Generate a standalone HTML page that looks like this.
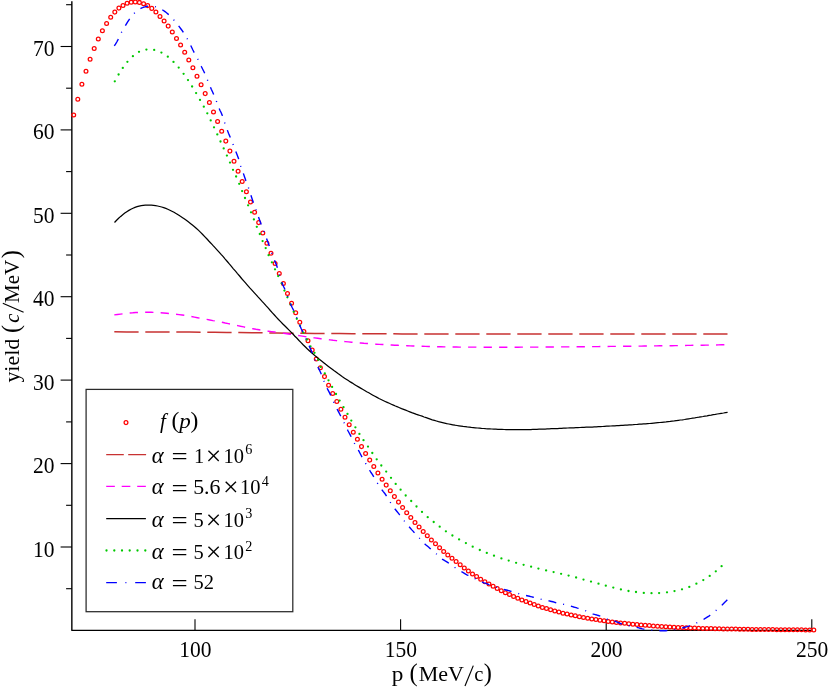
<!DOCTYPE html>
<html><head><meta charset="utf-8"><title>chart</title>
<style>
html,body{margin:0;padding:0;background:#fff;}
body{width:830px;height:689px;position:relative;overflow:hidden;font-family:"Liberation Serif",serif;}
svg text{white-space:pre;}
</style></head><body>
<svg width="830" height="689" viewBox="0 0 830 689" style="position:absolute;left:0;top:0;will-change:transform">
<g stroke="#000" stroke-width="1.4" fill="none">
<path d="M71.85,1.3 V630.4" stroke-width="1.4"/><path d="M71.4,630.4 H812.2"/>
</g>
<g stroke="#000" stroke-width="1.1" fill="none">
<path d="M66.1,588.7 H71.89999999999999"/>
<path d="M60.6,547.0 H71.89999999999999"/>
<path d="M66.1,505.3 H71.89999999999999"/>
<path d="M60.6,463.6 H71.89999999999999"/>
<path d="M66.1,421.9 H71.89999999999999"/>
<path d="M60.6,380.1 H71.89999999999999"/>
<path d="M66.1,338.4 H71.89999999999999"/>
<path d="M60.6,296.7 H71.89999999999999"/>
<path d="M66.1,255.0 H71.89999999999999"/>
<path d="M60.6,213.3 H71.89999999999999"/>
<path d="M66.1,171.6 H71.89999999999999"/>
<path d="M60.6,129.9 H71.89999999999999"/>
<path d="M66.1,88.2 H71.89999999999999"/>
<path d="M60.6,46.5 H71.89999999999999"/>
<path d="M66.1,4.7 H71.89999999999999"/>
<path d="M195.0,619.2 V630.4"/>
<path d="M400.6,619.2 V630.4"/>
<path d="M606.2,619.2 V630.4"/>
<path d="M811.8,619.2 V630.4"/>
</g>
<g fill="none" stroke="#ff0000" stroke-width="1.25"><circle cx="73.7" cy="115.0" r="1.9"/><circle cx="77.8" cy="99.2" r="1.9"/><circle cx="81.9" cy="84.3" r="1.9"/><circle cx="86.0" cy="71.2" r="1.9"/><circle cx="90.1" cy="59.2" r="1.9"/><circle cx="94.2" cy="48.6" r="1.9"/><circle cx="98.3" cy="39.1" r="1.9"/><circle cx="102.4" cy="30.7" r="1.9"/><circle cx="106.6" cy="23.4" r="1.9"/><circle cx="110.7" cy="17.2" r="1.9"/><circle cx="114.8" cy="12.1" r="1.9"/><circle cx="118.9" cy="8.1" r="1.9"/><circle cx="123.0" cy="5.4" r="1.9"/><circle cx="127.1" cy="3.2" r="1.9"/><circle cx="131.2" cy="2.2" r="1.9"/><circle cx="135.3" cy="2.0" r="1.9"/><circle cx="139.4" cy="2.4" r="1.9"/><circle cx="143.6" cy="3.7" r="1.9"/><circle cx="147.7" cy="5.6" r="1.9"/><circle cx="151.8" cy="8.4" r="1.9"/><circle cx="155.9" cy="12.0" r="1.9"/><circle cx="160.0" cy="16.4" r="1.9"/><circle cx="164.1" cy="20.9" r="1.9"/><circle cx="168.2" cy="26.1" r="1.9"/><circle cx="172.3" cy="32.0" r="1.9"/><circle cx="176.5" cy="38.4" r="1.9"/><circle cx="180.6" cy="45.0" r="1.9"/><circle cx="184.7" cy="52.3" r="1.9"/><circle cx="188.8" cy="60.0" r="1.9"/><circle cx="192.9" cy="67.8" r="1.9"/><circle cx="197.0" cy="76.2" r="1.9"/><circle cx="201.1" cy="84.8" r="1.9"/><circle cx="205.2" cy="93.6" r="1.9"/><circle cx="209.4" cy="102.5" r="1.9"/><circle cx="213.5" cy="111.9" r="1.9"/><circle cx="217.6" cy="121.4" r="1.9"/><circle cx="221.7" cy="131.3" r="1.9"/><circle cx="225.8" cy="141.1" r="1.9"/><circle cx="229.9" cy="151.1" r="1.9"/><circle cx="234.0" cy="161.2" r="1.9"/><circle cx="238.1" cy="171.3" r="1.9"/><circle cx="242.2" cy="181.4" r="1.9"/><circle cx="246.4" cy="191.7" r="1.9"/><circle cx="250.5" cy="202.0" r="1.9"/><circle cx="254.6" cy="212.3" r="1.9"/><circle cx="258.7" cy="222.6" r="1.9"/><circle cx="262.8" cy="232.9" r="1.9"/><circle cx="266.9" cy="243.2" r="1.9"/><circle cx="271.0" cy="253.3" r="1.9"/><circle cx="275.1" cy="263.4" r="1.9"/><circle cx="279.3" cy="273.4" r="1.9"/><circle cx="283.4" cy="283.4" r="1.9"/><circle cx="287.5" cy="293.4" r="1.9"/><circle cx="291.6" cy="303.2" r="1.9"/><circle cx="295.7" cy="312.8" r="1.9"/><circle cx="299.8" cy="322.2" r="1.9"/><circle cx="303.9" cy="331.5" r="1.9"/><circle cx="308.0" cy="340.8" r="1.9"/><circle cx="312.2" cy="350.1" r="1.9"/><circle cx="316.3" cy="359.0" r="1.9"/><circle cx="320.4" cy="367.8" r="1.9"/><circle cx="324.5" cy="376.6" r="1.9"/><circle cx="328.6" cy="385.2" r="1.9"/><circle cx="332.7" cy="393.5" r="1.9"/><circle cx="336.8" cy="401.4" r="1.9"/><circle cx="340.9" cy="409.3" r="1.9"/><circle cx="345.0" cy="417.2" r="1.9"/><circle cx="349.2" cy="424.7" r="1.9"/><circle cx="353.3" cy="432.2" r="1.9"/><circle cx="357.4" cy="439.3" r="1.9"/><circle cx="361.5" cy="446.6" r="1.9"/><circle cx="365.6" cy="453.4" r="1.9"/><circle cx="369.7" cy="460.1" r="1.9"/><circle cx="373.8" cy="466.5" r="1.9"/><circle cx="377.9" cy="472.9" r="1.9"/><circle cx="382.1" cy="479.2" r="1.9"/><circle cx="386.2" cy="485.1" r="1.9"/><circle cx="390.3" cy="490.8" r="1.9"/><circle cx="394.4" cy="496.6" r="1.9"/><circle cx="398.5" cy="502.1" r="1.9"/><circle cx="402.6" cy="507.5" r="1.9"/><circle cx="406.7" cy="512.7" r="1.9"/><circle cx="410.8" cy="517.6" r="1.9"/><circle cx="415.0" cy="522.5" r="1.9"/><circle cx="419.1" cy="527.1" r="1.9"/><circle cx="423.2" cy="531.5" r="1.9"/><circle cx="427.3" cy="535.8" r="1.9"/><circle cx="431.4" cy="539.9" r="1.9"/><circle cx="435.5" cy="543.8" r="1.9"/><circle cx="439.6" cy="547.7" r="1.9"/><circle cx="443.7" cy="551.5" r="1.9"/><circle cx="447.8" cy="554.9" r="1.9"/><circle cx="452.0" cy="558.3" r="1.9"/><circle cx="456.1" cy="561.6" r="1.9"/><circle cx="460.2" cy="564.7" r="1.9"/><circle cx="464.3" cy="568.1" r="1.9"/><circle cx="468.4" cy="571.0" r="1.9"/><circle cx="472.5" cy="573.9" r="1.9"/><circle cx="476.6" cy="576.6" r="1.9"/><circle cx="480.7" cy="579.2" r="1.9"/><circle cx="484.9" cy="581.8" r="1.9"/><circle cx="489.0" cy="584.1" r="1.9"/><circle cx="493.1" cy="586.3" r="1.9"/><circle cx="497.2" cy="588.5" r="1.9"/><circle cx="501.3" cy="590.7" r="1.9"/><circle cx="505.4" cy="592.7" r="1.9"/><circle cx="509.5" cy="594.6" r="1.9"/><circle cx="513.6" cy="596.5" r="1.9"/><circle cx="517.8" cy="598.3" r="1.9"/><circle cx="521.9" cy="600.0" r="1.9"/><circle cx="526.0" cy="601.5" r="1.9"/><circle cx="530.1" cy="603.0" r="1.9"/><circle cx="534.2" cy="604.5" r="1.9"/><circle cx="538.3" cy="606.1" r="1.9"/><circle cx="542.4" cy="607.4" r="1.9"/><circle cx="546.5" cy="608.6" r="1.9"/><circle cx="550.6" cy="609.8" r="1.9"/><circle cx="554.8" cy="611.0" r="1.9"/><circle cx="558.9" cy="612.1" r="1.9"/><circle cx="563.0" cy="613.2" r="1.9"/><circle cx="567.1" cy="614.0" r="1.9"/><circle cx="571.2" cy="615.0" r="1.9"/><circle cx="575.3" cy="615.8" r="1.9"/><circle cx="579.4" cy="616.7" r="1.9"/><circle cx="583.5" cy="617.5" r="1.9"/><circle cx="587.7" cy="618.2" r="1.9"/><circle cx="591.8" cy="618.9" r="1.9"/><circle cx="595.9" cy="619.5" r="1.9"/><circle cx="600.0" cy="620.2" r="1.9"/><circle cx="604.1" cy="620.8" r="1.9"/><circle cx="608.2" cy="621.4" r="1.9"/><circle cx="612.3" cy="621.9" r="1.9"/><circle cx="616.4" cy="622.4" r="1.9"/><circle cx="620.6" cy="622.9" r="1.9"/><circle cx="624.7" cy="623.3" r="1.9"/><circle cx="628.8" cy="623.8" r="1.9"/><circle cx="632.9" cy="624.2" r="1.9"/><circle cx="637.0" cy="624.6" r="1.9"/><circle cx="641.1" cy="624.9" r="1.9"/><circle cx="645.2" cy="625.3" r="1.9"/><circle cx="649.3" cy="625.6" r="1.9"/><circle cx="653.4" cy="625.9" r="1.9"/><circle cx="657.6" cy="626.2" r="1.9"/><circle cx="661.7" cy="626.5" r="1.9"/><circle cx="665.8" cy="626.7" r="1.9"/><circle cx="669.9" cy="626.9" r="1.9"/><circle cx="674.0" cy="627.2" r="1.9"/><circle cx="678.1" cy="627.4" r="1.9"/><circle cx="682.2" cy="627.6" r="1.9"/><circle cx="686.3" cy="627.8" r="1.9"/><circle cx="690.5" cy="627.9" r="1.9"/><circle cx="694.6" cy="628.1" r="1.9"/><circle cx="698.7" cy="628.2" r="1.9"/><circle cx="702.8" cy="628.4" r="1.9"/><circle cx="706.9" cy="628.5" r="1.9"/><circle cx="711.0" cy="628.6" r="1.9"/><circle cx="715.1" cy="628.7" r="1.9"/><circle cx="719.2" cy="628.8" r="1.9"/><circle cx="723.4" cy="628.9" r="1.9"/><circle cx="727.5" cy="629.0" r="1.9"/><circle cx="731.6" cy="629.1" r="1.9"/><circle cx="735.7" cy="629.1" r="1.9"/><circle cx="739.8" cy="629.2" r="1.9"/><circle cx="743.9" cy="629.3" r="1.9"/><circle cx="748.0" cy="629.3" r="1.9"/><circle cx="752.1" cy="629.4" r="1.9"/><circle cx="756.2" cy="629.4" r="1.9"/><circle cx="760.4" cy="629.5" r="1.9"/><circle cx="764.5" cy="629.5" r="1.9"/><circle cx="768.6" cy="629.6" r="1.9"/><circle cx="772.7" cy="629.6" r="1.9"/><circle cx="776.8" cy="629.7" r="1.9"/><circle cx="780.9" cy="629.7" r="1.9"/><circle cx="785.0" cy="629.7" r="1.9"/><circle cx="789.1" cy="629.8" r="1.9"/><circle cx="793.3" cy="629.8" r="1.9"/><circle cx="797.4" cy="629.8" r="1.9"/><circle cx="801.5" cy="629.8" r="1.9"/><circle cx="805.6" cy="629.9" r="1.9"/><circle cx="809.7" cy="629.9" r="1.9"/><circle cx="813.8" cy="629.9" r="1.9"/></g>
<path d="M114.3,331.8 L126.8,331.9 L139.3,331.9 L151.8,332.0 L164.4,332.0 L176.9,332.1 L189.4,332.1 L201.9,332.2 L214.4,332.3 L226.9,332.4 L239.4,332.6 L252.0,332.7 L264.5,332.9 L277.0,333.0 L289.5,333.2 L302.0,333.3 L314.5,333.4 L327.0,333.5 L339.6,333.6 L352.1,333.7 L364.6,333.7 L377.1,333.8 L389.6,333.8 L402.1,333.9 L414.6,333.9 L427.2,333.9 L439.7,334.0 L452.2,334.0 L464.7,334.0 L477.2,334.0 L489.7,334.0 L502.2,334.0 L514.8,334.0 L527.3,334.0 L539.8,334.0 L552.3,334.0 L564.8,334.0 L577.3,334.0 L589.8,334.0 L602.4,334.0 L614.9,334.0 L627.4,334.0 L639.9,333.9 L652.4,333.9 L664.9,333.9 L677.4,333.9 L690.0,333.9 L702.5,333.9 L715.0,333.9 L727.5,333.9" fill="none" stroke="#c83232" stroke-width="1.5" stroke-dasharray="24.3 6.7"/>
<path d="M114.3,314.9 L117.4,314.5 L120.5,314.1 L123.5,313.7 L126.6,313.4 L129.7,313.0 L132.8,312.8 L135.9,312.5 L139.0,312.4 L142.0,312.2 L145.1,312.2 L148.2,312.2 L151.3,312.2 L154.4,312.4 L157.4,312.6 L160.5,312.8 L163.6,313.0 L166.7,313.3 L169.8,313.6 L172.8,313.9 L175.9,314.2 L179.0,314.6 L182.1,315.0 L185.2,315.4 L188.3,315.9 L191.3,316.5 L194.4,317.1 L197.5,317.7 L200.6,318.3 L203.7,318.9 L206.7,319.4 L209.8,320.0 L212.9,320.6 L216.0,321.1 L219.1,321.7 L222.1,322.3 L225.2,323.0 L228.3,323.6 L231.4,324.3 L234.5,325.0 L237.6,325.6 L240.6,326.3 L243.7,326.9 L246.8,327.6 L249.9,328.2 L253.0,328.7 L256.0,329.3 L259.1,329.8 L262.2,330.3 L265.3,330.8 L268.4,331.2 L271.5,331.6 L274.5,332.0 L277.6,332.4 L280.7,332.8 L283.8,333.3 L286.9,333.7 L289.9,334.2 L293.0,334.6 L296.1,335.1 L299.2,335.6 L302.3,336.1 L305.3,336.6 L308.4,337.0 L311.5,337.5 L314.6,337.9 L317.7,338.3 L320.8,338.7 L323.8,339.1 L326.9,339.5 L330.0,339.9 L333.1,340.3 L336.2,340.6 L339.2,341.0 L342.3,341.3 L345.4,341.6 L348.5,341.9 L351.6,342.2 L354.6,342.5 L357.7,342.8 L360.8,343.0 L363.9,343.3 L367.0,343.5 L370.1,343.7 L373.1,344.0 L376.2,344.2 L379.3,344.4 L382.4,344.5 L385.5,344.7 L388.5,344.9 L391.6,345.0 L394.7,345.2 L397.8,345.3 L400.9,345.5 L404.0,345.6 L407.0,345.7 L410.1,345.9 L413.2,346.0 L416.3,346.1 L419.4,346.2 L422.4,346.3 L425.5,346.4 L428.6,346.5 L431.7,346.6 L434.8,346.7 L437.8,346.8 L440.9,346.8 L444.0,346.9 L447.1,346.9 L450.2,347.0 L453.3,347.0 L456.3,347.0 L459.4,347.1 L462.5,347.1 L465.6,347.1 L468.7,347.1 L471.7,347.1 L474.8,347.1 L477.9,347.2 L481.0,347.2 L484.1,347.2 L487.2,347.2 L490.2,347.2 L493.3,347.2 L496.4,347.2 L499.5,347.2 L502.6,347.2 L505.6,347.2 L508.7,347.2 L511.8,347.2 L514.9,347.2 L518.0,347.2 L521.0,347.1 L524.1,347.1 L527.2,347.1 L530.3,347.1 L533.4,347.1 L536.5,347.1 L539.5,347.1 L542.6,347.0 L545.7,347.0 L548.8,347.0 L551.9,347.0 L554.9,347.0 L558.0,347.0 L561.1,346.9 L564.2,346.9 L567.3,346.9 L570.3,346.9 L573.4,346.8 L576.5,346.8 L579.6,346.8 L582.7,346.7 L585.8,346.7 L588.8,346.7 L591.9,346.6 L595.0,346.6 L598.1,346.6 L601.2,346.5 L604.2,346.5 L607.3,346.5 L610.4,346.4 L613.5,346.4 L616.6,346.4 L619.7,346.3 L622.7,346.3 L625.8,346.2 L628.9,346.2 L632.0,346.2 L635.1,346.1 L638.1,346.1 L641.2,346.1 L644.3,346.0 L647.4,346.0 L650.5,345.9 L653.5,345.9 L656.6,345.9 L659.7,345.8 L662.8,345.8 L665.9,345.7 L669.0,345.7 L672.0,345.7 L675.1,345.6 L678.2,345.6 L681.3,345.5 L684.4,345.5 L687.4,345.4 L690.5,345.4 L693.6,345.3 L696.7,345.3 L699.8,345.2 L702.8,345.2 L705.9,345.1 L709.0,345.1 L712.1,345.0 L715.2,345.0 L718.3,344.9 L721.3,344.8 L724.4,344.8 L727.5,344.7" fill="none" stroke="#ff00ff" stroke-width="1.4" stroke-dasharray="8.3 7.2"/>
<path d="M114.5,222.5 L116.6,220.3 L118.6,218.3 L120.7,216.4 L122.7,214.7 L124.8,213.1 L126.8,211.7 L128.9,210.4 L130.9,209.2 L133.0,208.2 L135.0,207.4 L137.1,206.7 L139.1,206.1 L141.2,205.7 L143.2,205.4 L145.3,205.2 L147.3,205.1 L149.4,205.1 L151.4,205.2 L153.5,205.4 L155.5,205.6 L157.6,206.0 L159.6,206.5 L161.7,207.0 L163.7,207.7 L165.8,208.4 L167.8,209.2 L169.9,210.2 L171.9,211.2 L174.0,212.3 L176.0,213.5 L178.1,214.7 L180.1,216.1 L182.2,217.4 L184.2,218.8 L186.3,220.3 L188.3,221.8 L190.4,223.4 L192.4,225.0 L194.5,226.7 L196.5,228.5 L198.6,230.4 L200.6,232.4 L202.7,234.5 L204.7,236.6 L206.8,238.8 L208.8,241.0 L210.9,243.2 L212.9,245.4 L215.0,247.6 L217.0,249.8 L219.1,252.1 L221.1,254.4 L223.2,256.7 L225.2,259.1 L227.3,261.5 L229.3,263.9 L231.4,266.3 L233.4,268.8 L235.5,271.2 L237.5,273.6 L239.6,276.0 L241.6,278.5 L243.7,280.9 L245.7,283.2 L247.8,285.6 L249.8,287.9 L251.9,290.2 L253.9,292.4 L256.0,294.7 L258.0,296.9 L260.1,299.1 L262.1,301.4 L264.2,303.6 L266.2,305.9 L268.3,308.2 L270.3,310.5 L272.4,312.8 L274.4,315.0 L276.5,317.3 L278.5,319.5 L280.6,321.6 L282.6,323.7 L284.7,325.8 L286.7,327.8 L288.8,329.9 L290.8,331.9 L292.9,334.0 L294.9,336.2 L297.0,338.3 L299.0,340.5 L301.1,342.6 L303.1,344.7 L305.2,346.8 L307.2,348.8 L309.3,350.7 L311.3,352.5 L313.4,354.3 L315.4,356.1 L317.5,357.8 L319.6,359.4 L321.6,361.1 L323.7,362.7 L325.7,364.3 L327.8,365.9 L329.8,367.4 L331.9,369.0 L333.9,370.6 L336.0,372.1 L338.0,373.6 L340.1,375.1 L342.1,376.5 L344.2,377.9 L346.2,379.2 L348.3,380.6 L350.3,381.9 L352.4,383.1 L354.4,384.4 L356.5,385.7 L358.5,386.9 L360.6,388.1 L362.6,389.3 L364.7,390.5 L366.7,391.7 L368.8,392.8 L370.8,394.0 L372.9,395.2 L374.9,396.3 L377.0,397.4 L379.0,398.5 L381.1,399.5 L383.1,400.5 L385.2,401.5 L387.2,402.4 L389.3,403.3 L391.3,404.2 L393.4,405.1 L395.4,406.0 L397.5,406.8 L399.5,407.7 L401.6,408.6 L403.6,409.4 L405.7,410.2 L407.7,411.0 L409.8,411.8 L411.8,412.6 L413.9,413.3 L415.9,414.1 L418.0,414.8 L420.0,415.5 L422.1,416.2 L424.1,417.0 L426.2,417.7 L428.2,418.4 L430.3,419.1 L432.3,419.8 L434.4,420.4 L436.4,421.0 L438.5,421.6 L440.5,422.1 L442.6,422.6 L444.6,423.1 L446.7,423.6 L448.7,424.0 L450.8,424.4 L452.8,424.8 L454.9,425.2 L456.9,425.5 L459.0,425.8 L461.0,426.1 L463.1,426.4 L465.1,426.6 L467.2,426.9 L469.2,427.1 L471.3,427.4 L473.3,427.6 L475.4,427.8 L477.4,428.0 L479.5,428.2 L481.5,428.4 L483.6,428.5 L485.6,428.7 L487.7,428.8 L489.7,428.9 L491.8,429.0 L493.8,429.1 L495.9,429.2 L497.9,429.3 L500.0,429.3 L502.0,429.4 L504.1,429.5 L506.1,429.6 L508.2,429.6 L510.2,429.6 L512.3,429.7 L514.3,429.7 L516.4,429.7 L518.4,429.7 L520.5,429.7 L522.5,429.7 L524.6,429.6 L526.7,429.6 L528.7,429.5 L530.8,429.5 L532.8,429.4 L534.9,429.4 L536.9,429.3 L539.0,429.2 L541.0,429.1 L543.1,429.0 L545.1,429.0 L547.2,428.9 L549.2,428.8 L551.3,428.7 L553.3,428.6 L555.4,428.5 L557.4,428.5 L559.5,428.4 L561.5,428.3 L563.6,428.2 L565.6,428.1 L567.7,428.0 L569.7,427.9 L571.8,427.9 L573.8,427.8 L575.9,427.7 L577.9,427.6 L580.0,427.5 L582.0,427.4 L584.1,427.3 L586.1,427.2 L588.2,427.1 L590.2,427.0 L592.3,427.0 L594.3,426.9 L596.4,426.8 L598.4,426.7 L600.5,426.6 L602.5,426.5 L604.6,426.3 L606.6,426.2 L608.7,426.1 L610.7,426.0 L612.8,425.9 L614.8,425.8 L616.9,425.7 L618.9,425.6 L621.0,425.4 L623.0,425.3 L625.1,425.2 L627.1,425.1 L629.2,424.9 L631.2,424.8 L633.3,424.7 L635.3,424.5 L637.4,424.4 L639.4,424.2 L641.5,424.1 L643.5,423.9 L645.6,423.8 L647.6,423.6 L649.7,423.5 L651.7,423.3 L653.8,423.1 L655.8,422.9 L657.9,422.7 L659.9,422.5 L662.0,422.3 L664.0,422.1 L666.1,421.9 L668.1,421.6 L670.2,421.4 L672.2,421.1 L674.3,420.9 L676.3,420.6 L678.4,420.3 L680.4,420.0 L682.5,419.8 L684.5,419.5 L686.6,419.1 L688.6,418.8 L690.7,418.5 L692.7,418.2 L694.8,417.9 L696.8,417.5 L698.9,417.2 L700.9,416.8 L703.0,416.5 L705.0,416.1 L707.1,415.8 L709.1,415.4 L711.2,415.1 L713.2,414.7 L715.3,414.4 L717.3,414.0 L719.4,413.7 L721.4,413.3 L723.5,413.0 L725.5,412.6 L727.6,412.3" fill="none" stroke="#000" stroke-width="1.25"/>
<g fill="#00c800"><circle cx="114.8" cy="81.3" r="1.15"/><circle cx="118.6" cy="74.5" r="1.15"/><circle cx="122.8" cy="67.9" r="1.15"/><circle cx="127.4" cy="61.8" r="1.15"/><circle cx="132.9" cy="56.2" r="1.15"/><circle cx="139.0" cy="51.8" r="1.15"/><circle cx="146.4" cy="49.6" r="1.15"/><circle cx="154.2" cy="49.9" r="1.15"/><circle cx="161.4" cy="52.6" r="1.15"/><circle cx="167.8" cy="56.7" r="1.15"/><circle cx="173.5" cy="61.9" r="1.15"/><circle cx="178.7" cy="67.6" r="1.15"/><circle cx="183.6" cy="73.8" r="1.15"/><circle cx="188.0" cy="80.1" r="1.15"/><circle cx="192.1" cy="86.5" r="1.15"/><circle cx="196.1" cy="93.1" r="1.15"/><circle cx="200.0" cy="99.9" r="1.15"/><circle cx="203.8" cy="106.7" r="1.15"/><circle cx="207.3" cy="113.3" r="1.15"/><circle cx="210.7" cy="120.4" r="1.15"/><circle cx="214.0" cy="127.3" r="1.15"/><circle cx="217.3" cy="134.4" r="1.15"/><circle cx="220.5" cy="141.5" r="1.15"/><circle cx="223.7" cy="148.4" r="1.15"/><circle cx="226.9" cy="155.6" r="1.15"/><circle cx="230.0" cy="162.6" r="1.15"/><circle cx="233.0" cy="169.8" r="1.15"/><circle cx="236.1" cy="176.5" r="1.15"/><circle cx="239.2" cy="183.8" r="1.15"/><circle cx="242.1" cy="191.1" r="1.15"/><circle cx="245.0" cy="198.0" r="1.15"/><circle cx="248.1" cy="205.3" r="1.15"/><circle cx="251.0" cy="212.3" r="1.15"/><circle cx="253.9" cy="219.4" r="1.15"/><circle cx="256.8" cy="226.8" r="1.15"/><circle cx="259.8" cy="234.0" r="1.15"/><circle cx="262.6" cy="241.1" r="1.15"/><circle cx="265.7" cy="248.1" r="1.15"/><circle cx="268.6" cy="255.2" r="1.15"/><circle cx="271.9" cy="262.3" r="1.15"/><circle cx="275.0" cy="269.3" r="1.15"/><circle cx="278.2" cy="276.1" r="1.15"/><circle cx="281.6" cy="283.3" r="1.15"/><circle cx="284.4" cy="290.6" r="1.15"/><circle cx="287.4" cy="297.3" r="1.15"/><circle cx="290.6" cy="304.5" r="1.15"/><circle cx="293.7" cy="311.7" r="1.15"/><circle cx="296.8" cy="318.8" r="1.15"/><circle cx="300.0" cy="325.7" r="1.15"/><circle cx="303.3" cy="332.6" r="1.15"/><circle cx="306.9" cy="339.5" r="1.15"/><circle cx="310.5" cy="346.4" r="1.15"/><circle cx="314.5" cy="352.8" r="1.15"/><circle cx="318.2" cy="359.8" r="1.15"/><circle cx="320.7" cy="366.9" r="1.15"/><circle cx="324.8" cy="373.4" r="1.15"/><circle cx="328.5" cy="380.3" r="1.15"/><circle cx="332.1" cy="386.9" r="1.15"/><circle cx="336.0" cy="394.0" r="1.15"/><circle cx="339.6" cy="400.6" r="1.15"/><circle cx="343.5" cy="407.2" r="1.15"/><circle cx="347.5" cy="413.9" r="1.15"/><circle cx="351.3" cy="420.6" r="1.15"/><circle cx="355.4" cy="427.3" r="1.15"/><circle cx="359.4" cy="433.9" r="1.15"/><circle cx="363.5" cy="440.2" r="1.15"/><circle cx="368.0" cy="446.6" r="1.15"/><circle cx="372.3" cy="453.0" r="1.15"/><circle cx="376.7" cy="459.3" r="1.15"/><circle cx="381.3" cy="465.5" r="1.15"/><circle cx="386.2" cy="471.6" r="1.15"/><circle cx="391.0" cy="477.8" r="1.15"/><circle cx="395.7" cy="483.9" r="1.15"/><circle cx="400.6" cy="489.7" r="1.15"/><circle cx="405.7" cy="495.5" r="1.15"/><circle cx="411.2" cy="501.0" r="1.15"/><circle cx="416.5" cy="506.5" r="1.15"/><circle cx="422.0" cy="511.9" r="1.15"/><circle cx="427.7" cy="517.2" r="1.15"/><circle cx="433.7" cy="522.0" r="1.15"/><circle cx="439.7" cy="526.7" r="1.15"/><circle cx="445.9" cy="531.3" r="1.15"/><circle cx="452.4" cy="535.5" r="1.15"/><circle cx="459.1" cy="539.4" r="1.15"/><circle cx="465.9" cy="543.1" r="1.15"/><circle cx="472.7" cy="546.7" r="1.15"/><circle cx="479.8" cy="550.0" r="1.15"/><circle cx="486.8" cy="552.9" r="1.15"/><circle cx="494.0" cy="555.7" r="1.15"/><circle cx="501.4" cy="558.4" r="1.15"/><circle cx="508.7" cy="560.6" r="1.15"/><circle cx="516.1" cy="562.8" r="1.15"/><circle cx="523.6" cy="564.8" r="1.15"/><circle cx="531.1" cy="566.7" r="1.15"/><circle cx="538.4" cy="568.6" r="1.15"/><circle cx="546.1" cy="570.4" r="1.15"/><circle cx="553.6" cy="572.1" r="1.15"/><circle cx="561.1" cy="573.8" r="1.15"/><circle cx="568.6" cy="575.6" r="1.15"/><circle cx="576.1" cy="577.5" r="1.15"/><circle cx="583.5" cy="579.6" r="1.15"/><circle cx="591.0" cy="581.6" r="1.15"/><circle cx="598.5" cy="583.7" r="1.15"/><circle cx="605.8" cy="585.7" r="1.15"/><circle cx="613.3" cy="587.6" r="1.15"/><circle cx="620.9" cy="589.4" r="1.15"/><circle cx="628.5" cy="591.0" r="1.15"/><circle cx="636.0" cy="592.0" r="1.15"/><circle cx="643.8" cy="592.9" r="1.15"/><circle cx="651.5" cy="593.2" r="1.15"/><circle cx="659.1" cy="593.1" r="1.15"/><circle cx="667.0" cy="592.3" r="1.15"/><circle cx="674.5" cy="591.1" r="1.15"/><circle cx="682.0" cy="589.3" r="1.15"/><circle cx="689.3" cy="586.9" r="1.15"/><circle cx="696.4" cy="583.7" r="1.15"/><circle cx="703.3" cy="580.1" r="1.15"/><circle cx="709.7" cy="575.9" r="1.15"/><circle cx="715.8" cy="571.3" r="1.15"/><circle cx="721.6" cy="566.2" r="1.15"/></g>
<path d="M114.3,45.9 L115.5,44.2 L116.8,42.0 L118.0,39.6 L119.2,36.9 L120.4,34.3 L121.7,31.9 L122.9,29.7 L124.1,27.6 L125.4,25.7 L126.6,23.7 L127.8,21.7 L129.0,19.8 L130.3,18.0 L131.5,16.4 L132.7,14.9 L134.0,13.5 L135.2,12.4 L136.4,11.3 L137.6,10.4 L138.9,9.6 L140.1,8.9 L141.3,8.2 L142.6,7.7 L143.8,7.2 L145.0,6.8 L146.2,6.5 L147.5,6.2 L148.7,6.1 L149.9,6.0 L151.2,6.0 L152.4,6.1 L153.6,6.3 L154.8,6.5 L156.1,6.9 L157.3,7.3 L158.5,7.8 L159.8,8.4 L161.0,9.0 L162.2,9.7 L163.4,10.5 L164.7,11.4 L165.9,12.3 L167.1,13.3 L168.4,14.4 L169.6,15.5 L170.8,16.7 L172.0,17.9 L173.3,19.3 L174.5,20.7 L175.7,22.1 L177.0,23.7 L178.2,25.3 L179.4,26.9 L180.6,28.5 L181.9,30.2 L183.1,32.0 L184.3,33.9 L185.6,35.9 L186.8,38.0 L188.0,40.3 L189.2,42.6 L190.5,45.0 L191.7,47.5 L192.9,50.0 L194.1,52.3 L195.4,54.6 L196.6,56.8 L197.8,59.1 L199.1,61.6 L200.3,64.2 L201.5,66.8 L202.7,69.2 L204.0,71.7 L205.2,74.5 L206.4,77.5 L207.7,80.6 L208.9,83.5 L210.1,86.4 L211.3,89.2 L212.6,92.0 L213.8,94.8 L215.0,97.8 L216.3,100.9 L217.5,104.3 L218.7,107.5 L219.9,110.2 L221.2,112.8 L222.4,115.7 L223.6,119.5 L224.9,123.4 L226.1,126.8 L227.3,130.0 L228.5,133.2 L229.8,136.3 L231.0,139.3 L232.2,142.4 L233.5,145.5 L234.7,148.6 L235.9,151.7 L237.1,154.8 L238.4,158.2 L239.6,162.4 L240.8,166.6 L242.1,170.1 L243.3,173.2 L244.5,176.7 L245.7,180.2 L247.0,183.5 L248.2,186.9 L249.4,190.6 L250.7,194.5 L251.9,198.2 L253.1,201.7 L254.3,205.1 L255.6,208.5 L256.8,212.1 L258.0,215.7 L259.3,219.2 L260.5,222.5 L261.7,225.7 L262.9,229.0 L264.2,232.2 L265.4,235.5 L266.6,238.7 L267.9,242.0 L269.1,245.4 L270.3,248.8 L271.5,252.3 L272.8,255.7 L274.0,259.0 L275.2,262.0 L276.5,265.1 L277.7,268.7 L278.9,272.7 L280.1,276.9 L281.4,280.9 L282.6,284.2 L283.8,287.0 L285.1,289.7 L286.3,292.7 L287.5,296.1 L288.7,299.5 L290.0,302.7 L291.2,305.5 L292.4,308.0 L293.7,310.5 L294.9,313.3 L296.1,316.2 L297.3,319.3 L298.6,322.4 L299.8,325.4 L301.0,328.2 L302.3,330.9 L303.5,333.5 L304.7,336.2 L305.9,338.9 L307.2,341.6 L308.4,344.2 L309.6,346.9 L310.9,349.7 L312.1,352.5 L313.3,355.5 L314.5,358.6 L315.8,361.7 L317.0,364.8 L318.2,367.6 L319.5,370.2 L320.7,372.8 L321.9,375.8 L323.1,379.1 L324.4,382.3 L325.6,385.1 L326.8,387.7 L328.1,390.1 L329.3,392.4 L330.5,394.9 L331.7,397.6 L333.0,400.5 L334.2,403.3 L335.4,405.9 L336.7,408.3 L337.9,410.7 L339.1,412.9 L340.3,415.2 L341.6,417.6 L342.8,420.1 L344.0,422.6 L345.2,425.2 L346.5,427.7 L347.7,430.2 L348.9,432.5 L350.2,434.9 L351.4,437.3 L352.6,439.7 L353.8,442.2 L355.1,444.4 L356.3,446.6 L357.5,448.7 L358.8,450.9 L360.0,453.2 L361.2,455.5 L362.4,457.7 L363.7,459.9 L364.9,462.1 L366.1,464.2 L367.4,466.4 L368.6,468.5 L369.8,470.5 L371.0,472.5 L372.3,474.4 L373.5,476.4 L374.7,478.5 L376.0,480.7 L377.2,482.8 L378.4,484.7 L379.6,486.6 L380.9,488.3 L382.1,490.0 L383.3,491.6 L384.6,493.2 L385.8,495.0 L387.0,496.9 L388.2,498.9 L389.5,501.0 L390.7,503.0 L391.9,504.8 L393.2,506.6 L394.4,508.2 L395.6,509.8 L396.8,511.3 L398.1,512.9 L399.3,514.4 L400.5,516.0 L401.8,517.6 L403.0,519.2 L404.2,520.8 L405.4,522.4 L406.7,523.9 L407.9,525.4 L409.1,526.8 L410.4,528.2 L411.6,529.6 L412.8,530.9 L414.0,532.2 L415.3,533.5 L416.5,534.9 L417.7,536.2 L419.0,537.6 L420.2,539.0 L421.4,540.4 L422.6,541.7 L423.9,543.0 L425.1,544.2 L426.3,545.3 L427.6,546.3 L428.8,547.3 L430.0,548.4 L431.2,549.4 L432.5,550.5 L433.7,551.6 L434.9,552.7 L436.2,553.8 L437.4,555.0 L438.6,556.1 L439.8,557.2 L441.1,558.2 L442.3,559.1 L443.5,559.9 L444.8,560.7 L446.0,561.4 L447.2,562.1 L448.4,562.9 L449.7,563.7 L450.9,564.6 L452.1,565.5 L453.4,566.4 L454.6,567.3 L455.8,568.1 L457.0,568.9 L458.3,569.7 L459.5,570.4 L460.7,571.1 L462.0,571.9 L463.2,572.6 L464.4,573.3 L465.6,574.1 L466.9,574.8 L468.1,575.4 L469.3,576.0 L470.6,576.6 L471.8,577.1 L473.0,577.7 L474.2,578.3 L475.5,578.8 L476.7,579.4 L477.9,580.0 L479.2,580.6 L480.4,581.2 L481.6,581.7 L482.8,582.3 L484.1,582.8 L485.3,583.2 L486.5,583.7 L487.8,584.1 L489.0,584.6 L490.2,585.0 L491.4,585.5 L492.7,585.9 L493.9,586.3 L495.1,586.8 L496.4,587.2 L497.6,587.6 L498.8,588.0 L500.0,588.4 L501.3,588.7 L502.5,589.1 L503.7,589.4 L504.9,589.7 L506.2,590.0 L507.4,590.3 L508.6,590.6 L509.9,591.0 L511.1,591.3 L512.3,591.7 L513.5,592.1 L514.8,592.5 L516.0,592.9 L517.2,593.3 L518.5,593.6 L519.7,594.0 L520.9,594.3 L522.1,594.6 L523.4,594.8 L524.6,595.1 L525.8,595.4 L527.1,595.7 L528.3,596.0 L529.5,596.3 L530.7,596.6 L532.0,596.9 L533.2,597.2 L534.4,597.5 L535.7,597.9 L536.9,598.2 L538.1,598.5 L539.3,598.8 L540.6,599.1 L541.8,599.4 L543.0,599.6 L544.3,599.9 L545.5,600.1 L546.7,600.4 L547.9,600.6 L549.2,600.9 L550.4,601.2 L551.6,601.5 L552.9,601.8 L554.1,602.1 L555.3,602.5 L556.5,602.8 L557.8,603.1 L559.0,603.3 L560.2,603.6 L561.5,603.9 L562.7,604.2 L563.9,604.4 L565.1,604.7 L566.4,605.0 L567.6,605.3 L568.8,605.6 L570.1,605.9 L571.3,606.3 L572.5,606.6 L573.7,607.0 L575.0,607.3 L576.2,607.7 L577.4,608.1 L578.7,608.4 L579.9,608.8 L581.1,609.2 L582.3,609.5 L583.6,610.0 L584.8,610.4 L586.0,610.9 L587.3,611.5 L588.5,612.0 L589.7,612.6 L590.9,613.1 L592.2,613.6 L593.4,614.1 L594.6,614.4 L595.9,614.8 L597.1,615.1 L598.3,615.5 L599.5,615.9 L600.8,616.4 L602.0,616.9 L603.2,617.5 L604.5,618.0 L605.7,618.5 L606.9,619.0 L608.1,619.3 L609.4,619.6 L610.6,619.9 L611.8,620.2 L613.1,620.5 L614.3,620.9 L615.5,621.4 L616.7,621.9 L618.0,622.4 L619.2,622.9 L620.4,623.5 L621.7,623.9 L622.9,624.3 L624.1,624.7 L625.3,625.0 L626.6,625.3 L627.8,625.6 L629.0,625.8 L630.3,626.0 L631.5,626.2 L632.7,626.5 L633.9,626.7 L635.2,627.0 L636.4,627.3 L637.6,627.6 L638.9,627.9 L640.1,628.3 L641.3,628.6 L642.5,628.9 L643.8,629.1 L645.0,629.3 L646.2,629.5 L647.5,629.6 L648.7,629.8 L649.9,629.9 L651.1,630.0 L652.4,630.1 L653.6,630.2 L654.8,630.3 L656.0,630.4 L657.3,630.5 L658.5,630.6 L659.7,630.7 L661.0,630.7 L662.2,630.7 L663.4,630.7 L664.6,630.7 L665.9,630.7 L667.1,630.6 L668.3,630.5 L669.6,630.3 L670.8,630.1 L672.0,629.9 L673.2,629.7 L674.5,629.5 L675.7,629.3 L676.9,629.1 L678.2,628.9 L679.4,628.6 L680.6,628.4 L681.8,628.1 L683.1,627.8 L684.3,627.5 L685.5,627.1 L686.8,626.7 L688.0,626.3 L689.2,625.9 L690.4,625.4 L691.7,625.0 L692.9,624.5 L694.1,624.0 L695.4,623.4 L696.6,622.9 L697.8,622.3 L699.0,621.7 L700.3,621.1 L701.5,620.4 L702.7,619.8 L704.0,619.1 L705.2,618.4 L706.4,617.7 L707.6,616.9 L708.9,616.1 L710.1,615.2 L711.3,614.3 L712.6,613.3 L713.8,612.3 L715.0,611.3 L716.2,610.2 L717.5,609.1 L718.7,608.0 L719.9,606.9 L721.2,605.8 L722.4,604.7 L723.6,603.5 L724.8,602.3 L726.1,601.1 L727.3,599.8" fill="none" stroke="#0000ff" stroke-width="1.4" stroke-dasharray="8 7.04 1 7.04"/>
<rect x="86.1" y="389.4" width="206.7" height="222.3" fill="#fff" stroke="#2a2a2a" stroke-width="1.25"/>
<circle cx="126" cy="422.6" r="1.9" fill="none" stroke="#ff0000" stroke-width="1.25"/>
<path d="M106.2,454.5 H123.8 M128.2,454.5 H146.1" stroke="#c83232" stroke-width="1.25"/>
<path d="M106.2,486.4 H145.9" stroke="#ff00ff" stroke-width="1.25" stroke-dasharray="8.65 6.85"/>
<path d="M106.2,518.5 H145.9" stroke="#000" stroke-width="1.25"/>
<g fill="#00c800"><circle cx="106.5" cy="550.5" r="1.15"/><circle cx="114.3" cy="550.5" r="1.15"/><circle cx="122.0" cy="550.5" r="1.15"/><circle cx="129.7" cy="550.5" r="1.15"/><circle cx="137.5" cy="550.5" r="1.15"/><circle cx="145.3" cy="550.5" r="1.15"/></g>
<path d="M106.2,582.5 H116.9 M125.4,582.5 H126.4 M135.2,582.5 H145.9" stroke="#0000ff" stroke-width="1.25"/>
<g font-family="'Liberation Serif', serif" font-size="20.5px" fill="#000">
<text transform="translate(54.5,556.5) scale(1,1.075)" font-size="21.5px" text-anchor="end">10</text>
<text transform="translate(54.5,473.1) scale(1,1.075)" font-size="21.5px" text-anchor="end">20</text>
<text transform="translate(54.5,389.6) scale(1,1.075)" font-size="21.5px" text-anchor="end">30</text>
<text transform="translate(54.5,306.2) scale(1,1.075)" font-size="21.5px" text-anchor="end">40</text>
<text transform="translate(54.5,222.8) scale(1,1.075)" font-size="21.5px" text-anchor="end">50</text>
<text transform="translate(54.5,139.4) scale(1,1.075)" font-size="21.5px" text-anchor="end">60</text>
<text transform="translate(54.5,56.0) scale(1,1.075)" font-size="21.5px" text-anchor="end">70</text>
<text transform="translate(195.3,656.7) scale(1,1.075)" font-size="21.5px" text-anchor="middle">100</text>
<text transform="translate(400.9,656.7) scale(1,1.075)" font-size="21.5px" text-anchor="middle">150</text>
<text transform="translate(606.5,656.7) scale(1,1.075)" font-size="21.5px" text-anchor="middle">200</text>
<text transform="translate(812.1,656.7) scale(1,1.075)" font-size="21.5px" text-anchor="middle">250</text>
<text x="391.8" y="680.8" textLength="11.6" lengthAdjust="spacingAndGlyphs">p</text>
<text x="409.6" y="680.8" font-size="24.5px">(</text>
<text x="418.8" y="680.8" textLength="45.2" lengthAdjust="spacingAndGlyphs">MeV</text>
<path d="M465.0,686.0 L473.3,665.6" stroke="#000" stroke-width="1.15" fill="none"/>
<text x="474.2" y="680.8">c</text>
<text x="483.8" y="680.8" font-size="24.5px">)</text>
<g transform="translate(18.6,382) rotate(-90)">
<text x="-0.6" y="0" font-size="21px" textLength="43.8" lengthAdjust="spacingAndGlyphs">yield</text>
<text x="48.9" y="0" font-size="24.5px">(</text>
<text x="59.2" y="0" font-style="italic">c</text>
<path d="M69.8,5.0 L78.7,-15.8" stroke="#000" stroke-width="1.15" fill="none"/>
<text x="79.0" y="0" font-size="21px" textLength="43.2" lengthAdjust="spacingAndGlyphs">MeV</text>
<text x="123.7" y="0" font-size="24.5px">)</text>
</g>
<text transform="translate(160.0,428.3) scale(1,1)" font-style="italic" font-size="21px">f</text>
<text transform="translate(171.4,428.3) scale(1,1)" font-size="23.5px">(</text>
<text transform="translate(179.3,428.3) scale(1,1)" font-style="italic" textLength="11.5" lengthAdjust="spacingAndGlyphs">p</text>
<text transform="translate(190.6,428.3) scale(1,1)" font-size="23.5px">)</text>
<text transform="translate(151.8,462.5) scale(1,1)" font-style="italic" font-size="22.7px">α</text>
<text transform="translate(171.4,463.9) scale(1,1)" font-size="23px" textLength="16.2" lengthAdjust="spacingAndGlyphs">=</text>
<text transform="translate(193.9,462.5) scale(1,1.065)" >1</text>
<text transform="translate(205.7,464.5) scale(1,1)" font-size="27.7px">×</text>
<text transform="translate(223.6,462.5) scale(1,1.065)" >10</text>
<text transform="translate(245.3,454.4) scale(1,1.03)" font-size="14.2px">6</text>
<text transform="translate(151.8,494.1) scale(1,1)" font-style="italic" font-size="22.7px">α</text>
<text transform="translate(171.4,495.5) scale(1,1)" font-size="23px" textLength="16.2" lengthAdjust="spacingAndGlyphs">=</text>
<text transform="translate(193.2,494.1) scale(1,1.065)" textLength="27.3" lengthAdjust="spacingAndGlyphs">5.6</text>
<text transform="translate(223.0,496.1) scale(1,1)" font-size="27.7px">×</text>
<text transform="translate(239.9,494.1) scale(1,1.065)" >10</text>
<text transform="translate(261.7,486.0) scale(1,1.03)" font-size="14.2px">4</text>
<text transform="translate(151.8,526.5) scale(1,1)" font-style="italic" font-size="22.7px">α</text>
<text transform="translate(171.4,527.9) scale(1,1)" font-size="23px" textLength="16.2" lengthAdjust="spacingAndGlyphs">=</text>
<text transform="translate(193.6,526.5) scale(1,1.065)" >5</text>
<text transform="translate(205.7,528.5) scale(1,1)" font-size="27.7px">×</text>
<text transform="translate(223.6,526.5) scale(1,1.065)" >10</text>
<text transform="translate(245.3,518.4) scale(1,1.03)" font-size="14.2px">3</text>
<text transform="translate(151.8,558.8) scale(1,1)" font-style="italic" font-size="22.7px">α</text>
<text transform="translate(171.4,560.2) scale(1,1)" font-size="23px" textLength="16.2" lengthAdjust="spacingAndGlyphs">=</text>
<text transform="translate(193.6,558.8) scale(1,1.065)" >5</text>
<text transform="translate(205.7,560.8) scale(1,1)" font-size="27.7px">×</text>
<text transform="translate(223.6,558.8) scale(1,1.065)" >10</text>
<text transform="translate(245.3,550.7) scale(1,1.03)" font-size="14.2px">2</text>
<text transform="translate(151.8,589.3) scale(1,1)" font-style="italic" font-size="22.7px">α</text>
<text transform="translate(171.4,590.7) scale(1,1)" font-size="23px" textLength="16.2" lengthAdjust="spacingAndGlyphs">=</text>
<text transform="translate(193.6,589.3) scale(1,1.065)" >52</text>
</g>
</svg>
</body></html>
